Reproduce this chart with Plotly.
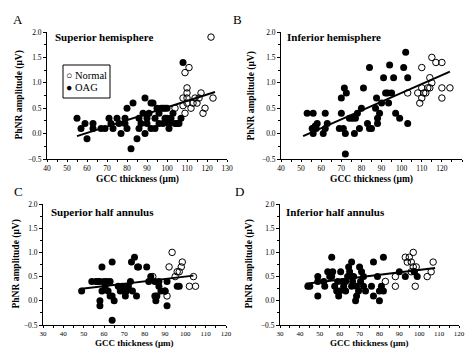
import plotly.graph_objects as go

# ---------------- data ----------------
# Panel A: Superior hemisphere
A_oag_x = [55, 57, 59, 60, 63, 63, 67, 69, 71, 72, 73, 75, 76, 77, 79, 79, 80, 80, 82, 83, 85, 86, 87, 89, 89, 90, 90, 91, 92, 92,
           93, 94, 95, 96, 96, 97, 98, 99, 100, 100, 101, 101, 102, 103, 104, 105, 106, 107, 108, 94, 99, 88, 86, 98]
A_oag_y = [0.3, 0.1, 0.2, -0.1, 0.2, 0.1, 0.1, 0.1, 0.3, 0.2, 0.1, 0.3, 0.2, 0.0, 0.3, 0.2, 0.5, 0.1, -0.3, 0.6, -0.1, 0.3, 0.2, 0.7, 0.0, 0.2, 0.3, 0.4, 0.6, 0.1,
           0.6, 0.3, 0.5, 0.2, 0.4, 0.5, 0.5, 0.3, 0.3, 0.5, 0.1, 0.2, 0.3, 0.4, 0.2, 0.2, 0.2, 0.3, 1.4, 0.1, 0.5, 0.4, 0.1, 0.2]
A_nor_x = [104, 108, 108, 109, 109, 110, 110, 110, 110, 111, 112, 113, 114, 115, 116, 117, 118, 119, 122, 123]
A_nor_y = [0.5, 0.7, 0.55, 1.2, 0.4, 0.9, 0.8, 0.6, 0.7, 1.3, 0.5, 0.6, 0.7, 0.6, 0.7, 0.8, 0.4, 0.5, 1.9, 0.7]
A_fit_x = [55, 124]
A_fit_y = [-0.05, 0.82]

# Panel B: Inferior hemisphere
B_oag_x = [53, 56, 55.5, 57, 57.5, 56, 58, 62, 61, 62, 63, 70, 69, 71, 70, 71.5, 72.5, 72, 72, 74, 75.5, 76.5, 77, 78, 81, 80, 79,
           83, 84, 85, 84, 87, 87.5, 88, 88, 89, 91, 90, 92, 93, 93.5, 94, 95, 96, 97, 99, 101, 102, 103, 103]
B_oag_y = [0.4, 0.4, 0.1, 0.15, 0.1, 0.0, 0.2, 0.4, 0.0, 0.1, 0.2, 0.4, 0.1, 0.1, 0.7, 0.9, 0.8, 0.0, -0.4, 0.3, 0.3, 0.0, 0.3, 0.4, 0.9, 0.5, 0.1,
           0.2, 0.1, 0.1, 1.3, 0.5, 0.7, 0.2, 0.3, 0.4, 1.1, 0.6, 0.8, 0.8, 0.6, 1.35, 0.8, 1.1, 0.4, 0.3, 1.3, 1.6, 1.1, 0.2]
B_nor_x = [103, 108, 109, 110, 110, 110, 111, 112, 113, 114, 114, 115, 115, 117, 120, 120, 120, 124]
B_nor_y = [0.8, 0.8, 0.6, 0.7, 0.9, 1.3, 0.8, 0.8, 0.9, 1.1, 0.9, 1.0, 1.5, 1.4, 1.4, 0.9, 0.7, 0.9]
B_fit_x = [51, 124]
B_fit_y = [-0.05, 1.22]

# Panel C: Superior half annulus
C_oag_x = [49, 54, 56, 57, 59, 58, 58, 58, 59, 60, 61.5, 60.5, 62, 63, 64, 64, 64, 65, 63, 67, 68, 69, 70, 70.5, 71, 72, 73, 74,
           73.5, 75, 76, 76.5, 77, 81, 82, 83, 85, 85, 85.5, 86, 87, 87, 88, 90, 91, 91, 96, 97]
C_oag_y = [0.2, 0.4, 0.4, 0.4, 0.7, 0.0, -0.1, 0.4, 0.2, 0.4, 0.4, 0.3, 0.2, 0.4, 0.8, -0.4, 0.1, 0.0, 0.1, 0.3, 0.2, 0.3, 0.2, 0.1, 0.2, 0.3, 0.4, 0.2,
           0.8, 0.9, 0.1, 0.7, 0.7, 0.7, 0.4, 0.5, 0.4, 0.1, 0.0, 0.1, 0.4, 0.3, 0.2, 0.2, -0.1, 0.4, 0.3, 0.3]
C_nor_x = [84, 90, 91, 92, 93.5, 95, 96, 97, 98, 98.5, 102, 104, 105]
C_nor_y = [0.5, 0.2, 0.1, 0.7, 1.0, 0.5, 0.6, 0.6, 0.7, 0.8, 0.3, 0.5, 0.3]
C_fit_x = [49, 104]
C_fit_y = [0.25, 0.52]

# Panel D: Inferior half annulus
D_oag_x = [44, 45, 49, 49, 49, 52, 52.5, 54, 55, 56, 56.5, 56, 57.5, 58.5, 59, 59.5, 60, 60.5, 61.5, 62, 63, 63, 64, 64.5, 65,
           66, 66, 66.5, 67, 68, 68.5, 68.5, 69.5, 70, 70.5, 71, 72, 72, 73, 77, 76, 77, 79, 80, 80, 81, 82, 82, 90, 93, 99, 97.5]
D_oag_y = [0.3, 0.3, 0.4, 0.1, 0.5, 0.4, 0.3, 0.6, 0.5, 0.9, 0.6, 0.5, 0.3, 0.2, 0.4, 0.1, 0.2, 0.6, 0.4, 0.3, 0.2, 0.4, 0.5, 0.7, 0.6,
           0.8, 0.3, 0.4, 0.5, 0.0, 0.1, 0.3, 0.2, 0.7, 0.4, 0.6, 0.5, 0.3, 0.2, 0.8, 0.3, 0.1, 0.5, 0.2, 0.0, 0.3, 0.2, 0.9, 0.6, 0.5, 0.5, 0.6]
D_nor_x = [83, 88, 88, 93, 94, 95, 96, 96, 97, 97, 97.5, 98, 98.5, 104, 106, 107]
D_nor_y = [0.4, 0.5, 0.3, 0.9, 0.8, 0.9, 0.8, 0.6, 1.0, 0.7, 0.6, 0.3, 0.7, 0.5, 0.6, 0.8]
D_fit_x = [43, 108]
D_fit_y = [0.35, 0.68]

panel_titles = ["Superior hemisphere", "Inferior hemisphere", "Superior half annulus", "Inferior half annulus"]
panel_letters = ["A", "B", "C", "D"]
legend_labels = ["Normal", "OAG"]
y_ticks = [-0.5, 0.0, 0.5, 1.0, 1.5, 2.0]
x_range_top = [40, 130]
x_range_bottom = [30, 120]
x_title = "GCC thickness (\u03bcm)"
y_title = "PhNR amplitude (\u03bcV)"

# ---------------- figure ----------------
W, H = 467, 349
FONT = "Liberation Serif"

def fx(px):
    return px / W

def fy(py):
    return 1 - py / H

panels = [
    dict(ox=A_oag_x, oy=A_oag_y, nx=A_nor_x, ny=A_nor_y, lx=A_fit_x, ly=A_fit_y,
         xd=[fx(47), fx(227)], yd=[fy(159), fy(32)], xr=x_range_top),
    dict(ox=B_oag_x, oy=B_oag_y, nx=B_nor_x, ny=B_nor_y, lx=B_fit_x, ly=B_fit_y,
         xd=[fx(281), fx(462)], yd=[fy(159), fy(32)], xr=x_range_top),
    dict(ox=C_oag_x, oy=C_oag_y, nx=C_nor_x, ny=C_nor_y, lx=C_fit_x, ly=C_fit_y,
         xd=[fx(43), fx(226)], yd=[fy(325), fy(204)], xr=x_range_bottom),
    dict(ox=D_oag_x, oy=D_oag_y, nx=D_nor_x, ny=D_nor_y, lx=D_fit_x, ly=D_fit_y,
         xd=[fx(280), fx(459)], yd=[fy(325), fy(204)], xr=x_range_bottom),
]

fig = go.Figure()
layout = {}
annotations = []
shapes = []

letter_pos = [(11, 19), (231, 19), (12, 191), (233, 191)]
title_pos = [(53, 37), (285, 37), (49, 212), (284, 212)]
ytitle_x = [19, 251, 16, 249]
xtitle_y = [179, 179, 344, 344]

for i, p in enumerate(panels):
    n = "" if i == 0 else str(i + 1)
    xa, ya = "x" + n, "y" + n
    fig.add_trace(go.Scatter(x=p["lx"], y=p["ly"], mode="lines", xaxis=xa, yaxis=ya,
                             line=dict(color="black", width=2), showlegend=False, hoverinfo="skip"))
    fig.add_trace(go.Scatter(x=p["nx"], y=p["ny"], mode="markers", xaxis=xa, yaxis=ya,
                             name=legend_labels[0], showlegend=False,
                             marker=dict(symbol="circle-open", color="black", size=6.5, line=dict(width=1))))
    fig.add_trace(go.Scatter(x=p["ox"], y=p["oy"], mode="markers", xaxis=xa, yaxis=ya,
                             name=legend_labels[1], showlegend=False,
                             marker=dict(symbol="circle", color="black", size=7)))
    ax_common = dict(showgrid=False, zeroline=False, showline=True, linecolor="black", linewidth=1,
                     tickcolor="black", tickwidth=1, automargin=False)
    layout["xaxis" + n] = dict(domain=p["xd"], anchor=ya, range=p["xr"], dtick=10, tick0=0,
                               ticks="outside", ticklen=2,
                               tickfont=dict(family=FONT, size=7.5 if i < 2 else 7, color="black"),
                               minor=dict(ticks="outside", ticklen=2, dtick=5, tickcolor="black"),
                               **ax_common)
    layout["yaxis" + n] = dict(domain=p["yd"], anchor=xa, range=[-0.5, 2.0], tickvals=y_ticks,
                               ticks="outside", ticklen=3,
                               tickfont=dict(family=FONT, size=7.5, color="black"),
                               tickformat=".1f", minor=dict(ticks="outside", ticklen=2, dtick=0.25, tickcolor="black"),
                               **ax_common)
    annotations.append(dict(text=panel_letters[i], x=fx(letter_pos[i][0]), y=fy(letter_pos[i][1]),
                            xref="paper", yref="paper", showarrow=False, xanchor="left", yanchor="middle",
                            font=dict(family=FONT, size=13, color="black")))
    annotations.append(dict(text="<b>" + panel_titles[i] + "</b>", x=fx(title_pos[i][0]), y=fy(title_pos[i][1]),
                            xref="paper", yref="paper", showarrow=False, xanchor="left", yanchor="middle",
                            font=dict(family=FONT, size=11, color="black")))
    annotations.append(dict(text="<b>" + y_title + "</b>", x=fx(ytitle_x[i]), y=(p["yd"][0] + p["yd"][1]) / 2,
                            xref="paper", yref="paper", showarrow=False, textangle=-90,
                            xanchor="center", yanchor="middle",
                            font=dict(family=FONT, size=9.5, color="black")))
    if i < 2:
        annotations.append(dict(text="<b>" + x_title + "</b>", x=(p["xd"][0] + p["xd"][1]) / 2, y=fy(xtitle_y[i]),
                                xref="paper", yref="paper", showarrow=False, xanchor="center", yanchor="middle",
                                font=dict(family=FONT, size=9.5, color="black")))
    else:
        annotations.append(dict(text="<b>" + x_title + "</b>", x=(p["xd"][0] + p["xd"][1]) / 2, y=0,
                                xref="paper", yref="paper", showarrow=False, xanchor="center", yanchor="bottom",
                                borderpad=0, font=dict(family=FONT, size=9, color="black")))

# Legend box in panel A (drawn as text + rectangle)
shapes.append(dict(type="rect", xref="paper", yref="paper", x0=fx(63), x1=fx(110), y0=fy(98), y1=fy(65),
                   line=dict(color="black", width=1), fillcolor="white", layer="below"))
annotations.append(dict(text="\u25cb " + legend_labels[0], x=fx(64), y=fy(75), xref="paper", yref="paper",
                        showarrow=False, xanchor="left", yanchor="middle",
                        font=dict(family=FONT, size=10.5, color="black")))
annotations.append(dict(text="\u25cf " + legend_labels[1], x=fx(64), y=fy(88), xref="paper", yref="paper",
                        showarrow=False, xanchor="left", yanchor="middle",
                        font=dict(family=FONT, size=10.5, color="black")))

fig.update_layout(
    template="none",
    width=W, height=H, margin=dict(l=0, r=0, t=0, b=0),
    paper_bgcolor="white", plot_bgcolor="rgba(0,0,0,0)",
    annotations=annotations, shapes=shapes, showlegend=False,
    **layout,
)

fig.write_html("out.html", config={"displayModeBar": False, "staticPlot": True},
               post_script="document.body.style.margin='0';document.body.style.padding='0';"
                           "document.body.style.overflow='hidden';")
